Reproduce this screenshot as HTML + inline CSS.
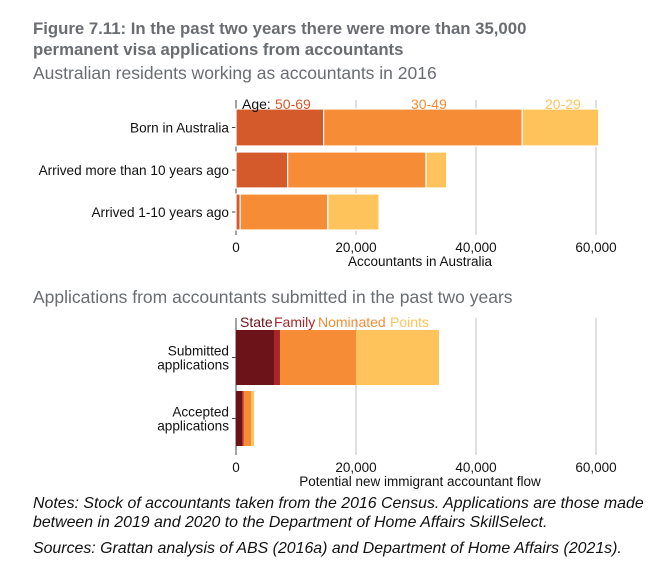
<!DOCTYPE html>
<html><head><meta charset="utf-8"><style>
body{margin:0;background:#fff;width:665px;height:566px;overflow:hidden;font-family:"Liberation Sans",Arial,sans-serif}
svg{position:absolute;left:0;top:0}
</style></head><body>
<svg id="c" width="665" height="566" font-family="Liberation Sans, Arial, sans-serif">
<text x="33" y="34" font-size="16.75" font-weight="bold" fill="#696d72">Figure 7.11: In the past two years there were more than 35,000</text>
<text x="33" y="55" font-size="16.75" font-weight="bold" fill="#696d72">permanent visa applications from accountants</text>
<text x="33" y="79" font-size="17.5" fill="#696d72">Australian residents working as accountants in 2016</text>
<text x="33" y="303" font-size="17.5" fill="#696d72">Applications from accountants submitted in the past two years</text>
<text x="33" y="508" font-size="15.9" font-style="italic" fill="#111">Notes: Stock of accountants taken from the 2016 Census. Applications are those made</text>
<text x="33" y="527" font-size="15.9" font-style="italic" fill="#111">between in 2019 and 2020 to the Department of Home Affairs SkillSelect.</text>
<text x="33" y="553" font-size="15.9" font-style="italic" fill="#111">Sources: Grattan analysis of ABS (2016a) and Department of Home Affairs (2021s).</text>
</svg>
<script>
const ticks=[0,20000,40000,60000];
const tickLabels=["0","20,000","40,000","60,000"];
const cats1=["Born in Australia","Arrived more than 10 years ago","Arrived 1-10 years ago"];
const age5069=[14600,8600,700];
const age3049=[33100,23070,14600];
const age2029=[12750,3450,8550];
const cats2=["Submitted|applications","Accepted|applications"];
const state=[6330,1050];
const family=[1000,200];
const nominated=[12670,1250];
const points=[13830,500];

const svg=document.getElementById('c');
const NS='http://www.w3.org/2000/svg';
const x=v=>236+v*0.006;
function mk(t,a,txt){const e=document.createElementNS(NS,t);for(const k in a)e.setAttribute(k,a[k]);if(txt!==undefined)e.textContent=txt;svg.appendChild(e);return e;}

function chart(id,top,bottom,cats,series,colors,rowY,rowH,title,legend){
  ticks.forEach((t,i)=>{
    if(i>0){const g=mk('line',{x1:x(t),x2:x(t),y1:top,y2:bottom,stroke:'#d6d6d6','stroke-width':1.5});
    
    }
    const l=mk('text',{x:x(t),y:bottom+17,'font-size':13.5,'text-anchor':'middle',fill:'#111'},tickLabels[i]);
    
    
  });
  const ax=mk('line',{x1:236,x2:236,y1:top,y2:bottom,stroke:'#444','stroke-width':1});
  
  
  const tt=mk('text',{x:420,y:bottom+31,'font-size':13.5,'text-anchor':'middle',fill:'#111'},title);
  
  
  cats.forEach((c,i)=>{
    const y0=rowY[i],cy=y0+rowH[i]/2;
    const tk=mk('line',{x1:232,x2:236,y1:cy,y2:cy,stroke:'#444'});
    
    
    const parts=c.split('|');
    parts.forEach((p,j)=>{
      const lb=mk('text',{x:229,y:cy+5+(j-(parts.length-1)/2)*14,'font-size':13.6,'text-anchor':'end',fill:'#111'},p);
      
      
    });
    let acc=0;
    series.forEach((s,k)=>{
      const v=s[i];
      const r=mk('rect',{x:x(acc),y:y0,width:Math.max(0,x(acc+v)-x(acc)),height:rowH[i],fill:colors[k],stroke:'#fff','stroke-width':id==='chart1'?1.2:0});
      
      
      acc+=v;
    });
  });
  legend.forEach(L=>{
    const t=mk('text',{x:L.x,y:top+9,'font-size':14,fill:L.c},L.t);
    
    
  });
}
const c1=['#d4592b','#f68d36','#fec35b'];
chart('chart1',100,235,cats1,[age5069,age3049,age2029],c1,[109,152,194],[37,36,36],'Accountants in Australia',
 [{n:'age-50-69',t:'50-69',x:275,c:'#d4592b'},{n:'age-30-49',t:'30-49',x:411,c:'#f68d36'},{n:'age-20-29',t:'20-29',x:545,c:'#fec35b'}]);
const a=mk('text',{x:242,y:109,'font-size':14,fill:'#111'},'Age:');


chart('chart2',318,455,cats2,[state,family,nominated,points],['#6b1319','#a8262b','#f68d36','#fec35b'],[330,391],[55,55],'Potential new immigrant accountant flow',
 [{n:'state',t:'State',x:240,c:'#6b1319'},{n:'family',t:'Family',x:274,c:'#a8262b'},{n:'nominated',t:'Nominated',x:318,c:'#f68d36'},{n:'points',t:'Points',x:390,c:'#fec35b'}]);
</script>
</body></html>
